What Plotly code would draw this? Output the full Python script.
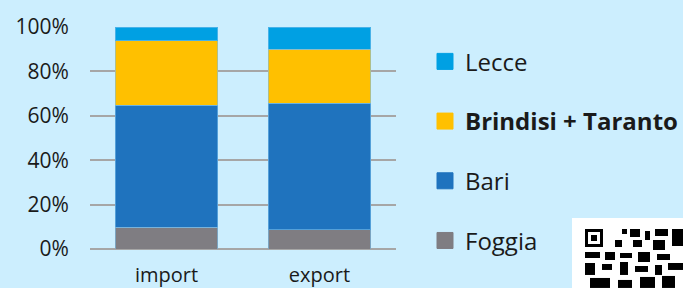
import plotly.graph_objects as go

categories = ["import", "export"]
series_names = ["Foggia", "Bari", "<b>Brindisi + Taranto</b>", "Lecce"]
foggia = [9.7, 8.7]
bari = [55.1, 57.0]
brindisi = [29.1, 24.3]
lecce = [6.1, 10.0]
colors = ["#7F7D82", "#1F73BE", "#FFC000", "#00A0E3"]
tick_vals = [0, 20, 40, 60, 80, 100]
tick_text = ["0%", "20%", "40%", "60%", "80%", "100%"]

values = [foggia, bari, brindisi, lecce]
BG = "#CCEEFE"
FONT = "Open Sans"

fig = go.Figure()
# legend proxies first (top to bottom: Lecce ... Foggia)
for name, col in list(zip(series_names, colors))[::-1]:
    fig.add_trace(go.Scatter(
        x=[None], y=[None], mode="markers", name=name, legendgroup=name,
        marker=dict(symbol="square", size=16, color=col, line=dict(width=1, color=col))))
for name, vals, col in zip(series_names, values, colors):
    fig.add_trace(go.Bar(
        x=categories, y=vals, name=name,
        marker=dict(color=col, line=dict(width=1, color="rgba(120,190,235,0.6)")),
        showlegend=False, legendgroup=name, hoverinfo="skip"))

# plot area in px: x 90..396, y 26.7..249
W, H = 683, 288
L, R, T, B = 90, 396, 26.7, 249
def px(x):
    return (x - L) / (R - L)
def py(y):
    return (B - y) / (B - T)

shapes = [dict(type="rect", xref="paper", yref="paper", x0=px(572), x1=px(690), y0=py(295), y1=py(218),
               fillcolor="white", line=dict(width=0), layer="above")]
qr_blocks = [
    (585, 229, 603, 247), (622, 229, 627, 234), (630, 229, 640, 237), (645, 231, 650, 240),
    (655, 229, 668, 236), (672, 229, 683, 246), (615, 240, 622, 247), (633, 240, 642, 247),
    (653, 240, 665, 250), (585, 252, 600, 258), (605, 252, 615, 260), (620, 253, 632, 258),
    (638, 252, 650, 262), (657, 254, 670, 260), (585, 263, 595, 275), (602, 264, 612, 270),
    (620, 262, 628, 275), (635, 266, 648, 272), (655, 265, 662, 275), (668, 263, 683, 270),
    (590, 278, 610, 288), (618, 280, 632, 288), (640, 277, 655, 288), (662, 276, 675, 288),
]
for (x0, y0, x1, y1) in qr_blocks:
    shapes.append(dict(type="rect", xref="paper", yref="paper", x0=px(x0), x1=px(x1), y0=py(y1), y1=py(y0),
                       fillcolor="black", line=dict(width=0), layer="above"))
shapes.append(dict(type="rect", xref="paper", yref="paper", x0=px(588), x1=px(600), y0=py(244), y1=py(232),
                   fillcolor="white", line=dict(width=0), layer="above"))
shapes.append(dict(type="rect", xref="paper", yref="paper", x0=px(591), x1=px(597), y0=py(241), y1=py(235),
                   fillcolor="black", line=dict(width=0), layer="above"))

fig.update_layout(
    width=W, height=H,
    barmode="stack", bargap=0.333,
    paper_bgcolor=BG, plot_bgcolor=BG,
    margin=dict(l=L, r=W - R, t=T, b=H - B, pad=0, autoexpand=False),
    font=dict(family=FONT, color="#1A1A1A", size=18),
    xaxis=dict(type="category", automargin=False, showgrid=False, showline=False, zeroline=False,
               tickfont=dict(size=20), ticks="outside", ticklen=8, tickcolor="rgba(0,0,0,0)"),
    yaxis=dict(automargin=False, range=[0, 100], tickvals=tick_vals, ticktext=tick_text, showgrid=True,
               gridcolor="#A6A6A6", gridwidth=2, zeroline=True, zerolinecolor="#A6A6A6", zerolinewidth=2,
               showline=False, tickfont=dict(size=21), ticks="outside", ticklen=16, tickcolor="rgba(0,0,0,0)"),
    legend=dict(x=px(425), xanchor="left", y=py(39), yanchor="top", traceorder="grouped",
                tracegroupgap=25.5, font=dict(size=24, color="#1A1A1A"), itemwidth=30,
                bgcolor="rgba(0,0,0,0)"),
    shapes=shapes,
)
try:
    fig.update_layout(legend_maxheight=260)
except Exception:
    pass

fig.write_html("out.html", config={"displayModeBar": False},
               post_script="document.body.style.margin='0';document.body.style.background='%s';document.body.style.overflow='hidden';" % BG)
